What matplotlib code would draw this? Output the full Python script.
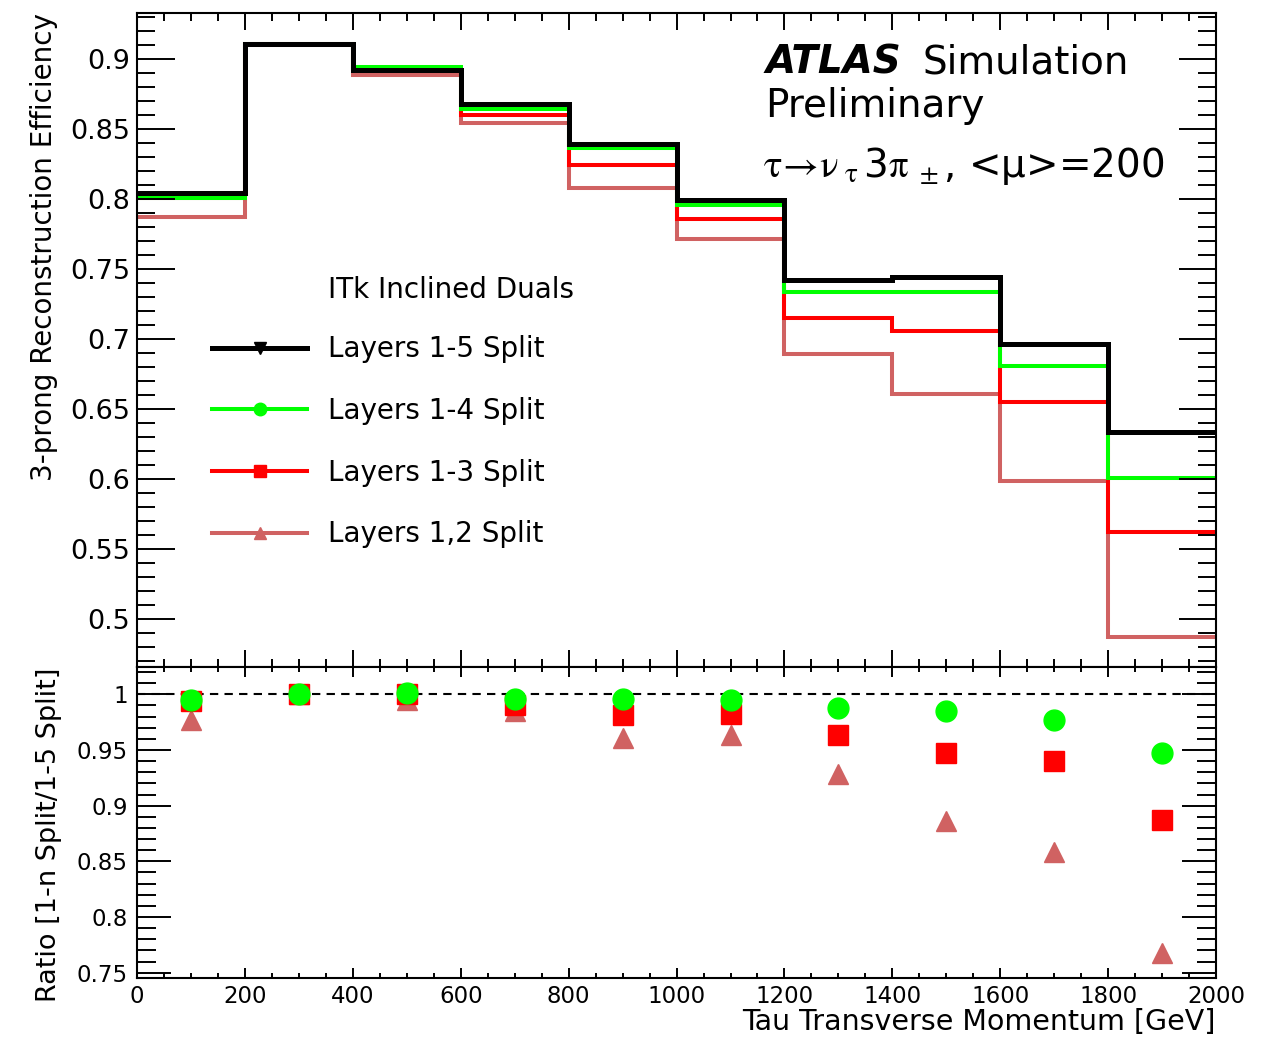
import numpy as np
import matplotlib.pyplot as plt
from matplotlib.lines import Line2D
from matplotlib.ticker import MultipleLocator, FuncFormatter

plt.rcParams['mathtext.fontset'] = 'stix'

# ========== DATA ==========
pt_edges = [0, 200, 400, 600, 800, 1000, 1200, 1400, 1600, 1800, 2000]
pt_centers = [100, 300, 500, 700, 900, 1100, 1300, 1500, 1700, 1900]

eff_15 = [0.8047, 0.9107, 0.8924, 0.8679, 0.8393, 0.7995, 0.7424, 0.7447, 0.6964, 0.6340]
eff_14 = [0.8007, 0.9107, 0.8943, 0.8643, 0.8364, 0.7957, 0.7336, 0.7336, 0.6809, 0.6007]
eff_13 = [0.8006, 0.9107, 0.8924, 0.8602, 0.8243, 0.7857, 0.7150, 0.7059, 0.6554, 0.5626]
eff_12 = [0.7876, 0.9100, 0.8888, 0.8547, 0.8083, 0.7716, 0.6893, 0.6610, 0.5988, 0.4876]

ratio_14 = [0.995, 1.000, 1.0015, 0.9955, 0.9955, 0.995, 0.988, 0.985, 0.977, 0.947]
ratio_13 = [0.994, 1.000, 1.000, 0.990, 0.981, 0.9825, 0.9634, 0.9475, 0.9404, 0.887]
ratio_12 = [0.977, 1.000, 0.995, 0.985, 0.961, 0.963, 0.9284, 0.8865, 0.8583, 0.768]

labels = ['Layers 1-5 Split', 'Layers 1-4 Split', 'Layers 1-3 Split', 'Layers 1,2 Split']
c_black, c_green, c_red, c_brown = 'black', '#00ff00', '#ff0000', '#d06262'

# ========== FIGURE ==========
fig = plt.figure(figsize=(12.64, 10.38), dpi=100)
ax = fig.add_axes([0.1084, 0.35742, 0.8537, 0.63006])
axr = fig.add_axes([0.1084, 0.0578, 0.8537, 0.29961])

# upper panel: efficiency histograms (drawn back to front)
ax.stairs(eff_12, pt_edges, color=c_brown, lw=2.9, baseline=None)
ax.stairs(eff_13, pt_edges, color=c_red, lw=2.9, baseline=None)
ax.stairs(eff_14, pt_edges, color=c_green, lw=2.9, baseline=None)
ax.stairs(eff_15, pt_edges, color=c_black, lw=3.6, baseline=None)

ax.set_xlim(0, 2000)
ax.set_ylim(0.4659, 0.9331)
ax.xaxis.set_major_locator(MultipleLocator(200))
ax.xaxis.set_minor_locator(MultipleLocator(50))
ax.yaxis.set_major_locator(MultipleLocator(0.05))
ax.yaxis.set_minor_locator(MultipleLocator(0.01))
ax.yaxis.set_major_formatter(FuncFormatter(lambda v, p: '%g' % round(v, 3)))
ax.tick_params(which='both', direction='in', top=True, right=True, width=1.4, labelbottom=False)
ax.tick_params(axis='y', which='major', length=27, labelsize=19.5, pad=5)
ax.tick_params(axis='y', which='minor', length=13)
ax.tick_params(axis='x', which='major', length=12)
ax.tick_params(axis='x', which='minor', length=6)
for s in ax.spines.values():
    s.set_linewidth(1.5)
ax.set_ylabel('3-prong Reconstruction Efficiency', fontsize=20, loc='top')
ax.yaxis.set_label_coords(-0.073, 1.0)

# ATLAS label
ax.text(0.582, 0.908, 'ATLAS', transform=ax.transAxes, fontsize=28,
        fontweight='bold', fontstyle='italic')
ax.text(0.7275, 0.908, 'Simulation', transform=ax.transAxes, fontsize=28)
ax.text(0.582, 0.8407, 'Preliminary', transform=ax.transAxes, fontsize=28)
ax.text(0.580, 0.7489,
        r'$\mathrm{\tau\!\rightarrow\!\nu_{\ \tau}\,}$3$\mathrm{\pi_{\ \pm}}$, <μ>=200',
        transform=ax.transAxes, fontsize=28)

# legend
ax.text(0.177, 0.577, 'ITk Inclined Duals', transform=ax.transAxes,
        fontsize=20, va='center')
handles = [
    Line2D([], [], color=c_black, lw=3.6, marker='v', ms=9),
    Line2D([], [], color=c_green, lw=2.9, marker='o', ms=9),
    Line2D([], [], color=c_red, lw=2.9, marker='s', ms=9),
    Line2D([], [], color=c_brown, lw=2.9, marker='^', ms=9),
]
ax.legend(handles, labels, loc='upper left', bbox_to_anchor=(0.0695, 0.507),
          frameon=False, fontsize=20, handlelength=3.42, handletextpad=0.75,
          labelspacing=1.21, borderpad=0, borderaxespad=0)

# lower panel: ratio
axr.axhline(1.0, color='black', lw=1.5, ls=(0, (4, 3)))
axr.plot(pt_centers, ratio_12, ls='none', marker='^', ms=15, color=c_brown)
axr.plot(pt_centers, ratio_13, ls='none', marker='s', ms=15, color=c_red)
axr.plot(pt_centers, ratio_14, ls='none', marker='o', ms=15, color=c_green)

axr.set_xlim(0, 2000)
axr.set_ylim(0.7452, 1.0245)
axr.xaxis.set_major_locator(MultipleLocator(200))
axr.xaxis.set_minor_locator(MultipleLocator(50))
axr.yaxis.set_major_locator(MultipleLocator(0.05))
axr.yaxis.set_minor_locator(MultipleLocator(0.01))
axr.yaxis.set_major_formatter(FuncFormatter(lambda v, p: '%g' % round(v, 3)))
axr.tick_params(which='both', direction='in', top=True, right=True, width=1.4)
axr.tick_params(axis='y', which='major', length=24.5, labelsize=16.5, pad=6.5)
axr.tick_params(axis='y', which='minor', length=13.5)
axr.tick_params(axis='x', which='major', length=7, labelsize=16.5, pad=5)
axr.tick_params(axis='x', which='minor', length=3.5)
for s in axr.spines.values():
    s.set_linewidth(1.5)
axr.set_ylabel('Ratio [1-n Split/1-5 Split]', fontsize=19.5, loc='top')
axr.yaxis.set_label_coords(-0.0695, 1.0)
axr.set_xlabel('Tau Transverse Momentum [GeV]', fontsize=20.5, loc='right')
axr.xaxis.label.set_va('baseline')
axr.xaxis.set_label_coords(1.0, -0.167)

fig.savefig('out.png', dpi=100)
